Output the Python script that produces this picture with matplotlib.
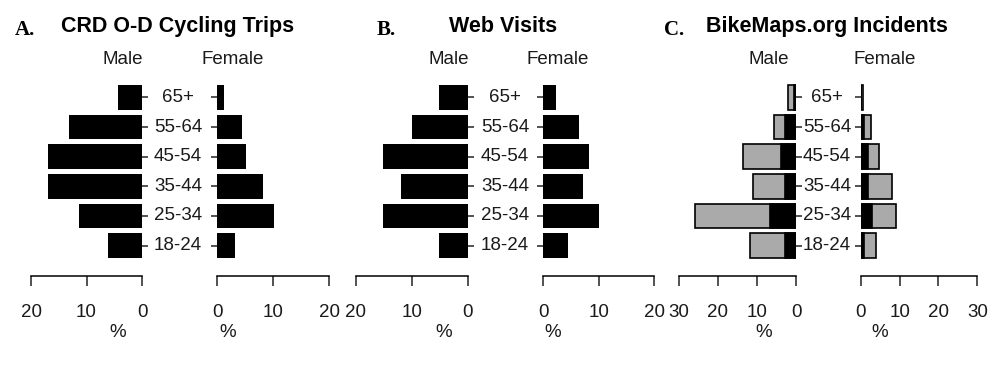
import matplotlib.pyplot as plt
from matplotlib.transforms import blended_transform_factory
import numpy as np

plt.rcParams['font.family'] = ['Liberation Sans', 'DejaVu Sans']

ages = ['18-24', '25-34', '35-44', '45-54', '55-64', '65+']

# A. CRD O-D cycling trips (%)
crd_male = [6.2, 11.3, 17.0, 17.0, 13.2, 4.3]
crd_female = [3.2, 10.1, 8.2, 5.2, 4.5, 1.2]
# B. web visits (%)
web_male = [5.1, 15.1, 12.0, 15.1, 10.0, 5.1]
web_female = [4.4, 10.1, 7.2, 8.2, 6.4, 2.3]
# C. BikeMaps.org incidents (%): grey = total, black = inner part
bike_male = [11.8, 25.9, 10.9, 13.7, 5.7, 2.0]
bike_female = [3.9, 9.2, 8.1, 4.6, 2.6, 0.6]
bike_male_inner = [2.7, 6.6, 2.7, 3.9, 2.7, 0.6]
bike_female_inner = [0.9, 2.8, 2.0, 2.0, 0.9, 0.2]

W, H = 1000, 366
fig = plt.figure(figsize=(W / 100, H / 100), dpi=100)
txt = '#1a1a1a'
fs = 13.5

y = np.arange(len(ages))
ytop, ybot = 79.7, 263.3


def px_axes(x0, x1):
    return fig.add_axes([x0 / W, 1 - ybot / H, (x1 - x0) / W, (ybot - ytop) / H])


def style(ax, xmax, ticks, side):
    ax.set_ylim(-0.6, 5.6)
    if side == 'male':
        ax.set_xlim(xmax, 0)
    else:
        ax.set_xlim(0, xmax)
    for s in ['top', 'left', 'right']:
        ax.spines[s].set_visible(False)
    ax.spines['bottom'].set_position(('outward', 9))
    ax.spines['bottom'].set_bounds(0, xmax)
    ax.spines['bottom'].set_linewidth(1.1)
    ax.set_xticks(ticks)
    ax.tick_params(axis='x', length=7, width=1.1, pad=13.5, labelsize=fs,
                   labelcolor=txt, color='#222222')
    ax.set_yticks(y)
    ax.set_yticklabels([])
    if side == 'male':
        ax.yaxis.tick_right()
    else:
        ax.yaxis.tick_left()
    ax.tick_params(axis='y', length=4, width=1.1, color='#222222')
    ax.patch.set_visible(False)


panels = [
    dict(letter='A.', title='CRD O-D Cycling Trips', m=(31, 142), f=(217.3, 329),
         xmax=20, ticks=[0, 10, 20], male=crd_male, female=crd_female,
         letter_x=25, title_x=178, mx=123, fx=233, lab_x=178),
    dict(letter='B.', title='Web Visits', m=(355.7, 467.7), f=(543.3, 654.3),
         xmax=20, ticks=[0, 10, 20], male=web_male, female=web_female,
         letter_x=386.7, title_x=503, mx=449, fx=558, lab_x=505),
    dict(letter='C.', title='BikeMaps.org Incidents', m=(679, 796), f=(860.7, 977.3),
         xmax=30, ticks=[0, 10, 20, 30], male=bike_male, female=bike_female,
         letter_x=674, title_x=827, mx=769, fx=885, lab_x=827),
]

for i, p in enumerate(panels):
    axm = px_axes(*p['m'])
    axf = px_axes(*p['f'])
    if i < 2:
        axm.barh(y, p['male'], height=0.83, color='black')
        axf.barh(y, p['female'], height=0.83, color='black')
    else:
        axm.barh(y, p['male'], height=0.83, color='#aaaaaa', edgecolor='black', linewidth=1.2)
        axm.barh(y, bike_male_inner, height=0.83, color='black', edgecolor='black', linewidth=1.2)
        axf.barh(y, p['female'], height=0.83, color='#aaaaaa', edgecolor='black', linewidth=1.2)
        axf.barh(y, bike_female_inner, height=0.83, color='black', edgecolor='black', linewidth=1.2)
    style(axm, p['xmax'], p['ticks'], 'male')
    style(axf, p['xmax'], p['ticks'], 'female')

    tr = blended_transform_factory(fig.transFigure, axm.transData)
    for yy, a in zip(y, ages):
        axm.text(p['lab_x'] / W, yy, a, transform=tr, ha='center', va='center',
                 fontsize=fs, color=txt, clip_on=False)

    fig.text(p['letter_x'] / W, 1 - 35 / H, p['letter'], ha='center', va='baseline',
             fontsize=15, fontweight='bold', family='Liberation Serif', color='black')
    fig.text(p['title_x'] / W, 1 - 32.3 / H, p['title'], ha='center', va='baseline',
             fontsize=15.5, fontweight='bold', color='black')
    fig.text(p['mx'] / W, 1 - 64 / H, 'Male', ha='center', va='baseline', fontsize=fs, color=txt)
    fig.text(p['fx'] / W, 1 - 64 / H, 'Female', ha='center', va='baseline', fontsize=fs, color=txt)
    fig.text(p['mx'] / W - 0.005, 1 - 337 / H, '%', ha='center', va='baseline', fontsize=fs, color=txt)
    fig.text(p['fx'] / W - 0.005, 1 - 337 / H, '%', ha='center', va='baseline', fontsize=fs, color=txt)

fig.savefig('out.png', dpi=100)
